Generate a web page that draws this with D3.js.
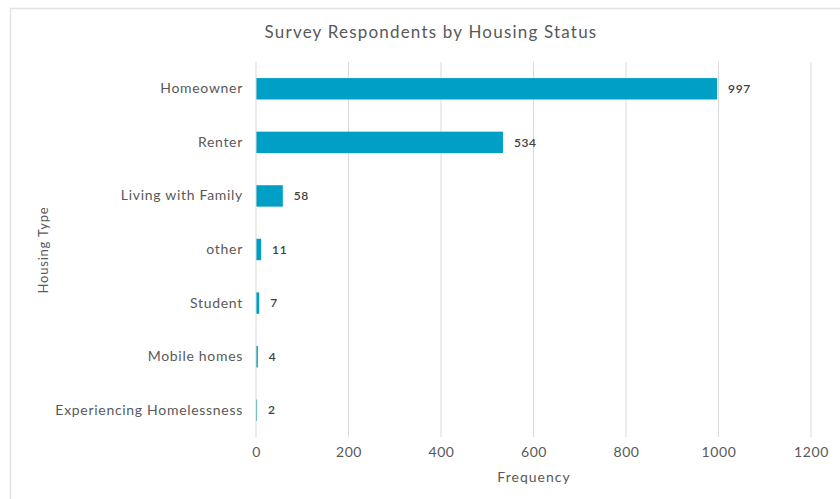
<!DOCTYPE html>
<html>
<head>
<meta charset="utf-8">
<script src="https://cdn.jsdelivr.net/npm/d3@7"></script>
<style>
  body { margin: 0; background: #fff; }
  svg { display: block; font-family: Lato, "Open Sans", sans-serif; }
</style>
</head>
<body>
<svg id="chart" width="840" height="499"></svg>
<script>
const categories = ["Homeowner", "Renter", "Living with Family", "other", "Student", "Mobile homes", "Experiencing Homelessness"];
const counts = [997, 534, 58, 11, 7, 4, 2];
const xTicks = [0, 200, 400, 600, 800, 1000, 1200];

const svg = d3.select("#chart");
const W = 840, H = 499;
const margin = { top: 62, right: 29, bottom: 62, left: 256 };

// chart frame
svg.append("rect")
  .attr("x", 10.5).attr("y", 8.5)
  .attr("width", W).attr("height", H)
  .attr("fill", "none").attr("stroke", "#e3e3e3").attr("stroke-width", 1.5);

const x = d3.scaleLinear().domain([0, 1200]).range([margin.left, W - margin.right]);
const y = d3.scaleBand().domain(categories).range([margin.top, H - margin.bottom]).paddingInner(0.6).paddingOuter(0.3);

// vertical gridlines
svg.append("g").selectAll("line").data(xTicks.slice(1)).join("line")
  .attr("x1", d => x(d)).attr("x2", d => x(d))
  .attr("y1", margin.top).attr("y2", H - margin.bottom)
  .attr("stroke", "#d9d9d9").attr("stroke-width", 1);

// bars
svg.append("g").selectAll("rect").data(categories).join("rect")
  .attr("x", x(0))
  .attr("y", d => y(d))
  .attr("width", (d, i) => x(counts[i]) - x(0))
  .attr("height", y.bandwidth())
  .attr("fill", "#00a0c6");

// value axis baseline
svg.append("line")
  .attr("x1", x(0)).attr("x2", x(0))
  .attr("y1", margin.top).attr("y2", H - margin.bottom)
  .attr("stroke", "#d9d9d9").attr("stroke-width", 1);

// data labels
svg.append("g").selectAll("text").data(categories).join("text")
  .attr("x", (d, i) => x(counts[i]) + 11)
  .attr("y", d => y(d) + y.bandwidth() / 2)
  .attr("dy", "0.35em")
  .attr("font-size", 12).attr("letter-spacing", 0.6).attr("font-weight", 600).attr("fill", "#404040")
  .text((d, i) => counts[i]);

// category axis
const yAxis = d3.axisLeft(y).tickSize(0).tickPadding(13);
const yg = svg.append("g").attr("transform", `translate(${x(0)},0)`).call(yAxis);
yg.select(".domain").remove();
yg.selectAll("text").attr("font-size", 14).attr("letter-spacing", 0.7).attr("fill", "#595959").attr("font-family", "Lato, sans-serif");

// x axis
const xAxis = d3.axisBottom(x).tickValues(xTicks).tickFormat(d3.format("d")).tickSize(0).tickPadding(10);
const xg = svg.append("g").attr("transform", `translate(0,${H - margin.bottom})`).call(xAxis);
xg.select(".domain").remove();
xg.selectAll("text").attr("font-size", 14).attr("letter-spacing", 0.6).attr("fill", "#595959").attr("font-family", "Lato, sans-serif");

// titles
svg.append("text").attr("x", 431).attr("y", 38).attr("text-anchor", "middle")
  .attr("font-size", 17).attr("fill", "#595959").attr("letter-spacing", 1.2)
  .text("Survey Respondents by Housing Status");

svg.append("text").attr("x", 534).attr("y", 482).attr("text-anchor", "middle")
  .attr("font-size", 14).attr("letter-spacing", 1).attr("fill", "#595959")
  .text("Frequency");

svg.append("text").attr("transform", "translate(48,250) rotate(-90)").attr("text-anchor", "middle")
  .attr("font-size", 13).attr("letter-spacing", 0.8).attr("fill", "#595959")
  .text("Housing Type");
</script>
</body>
</html>
